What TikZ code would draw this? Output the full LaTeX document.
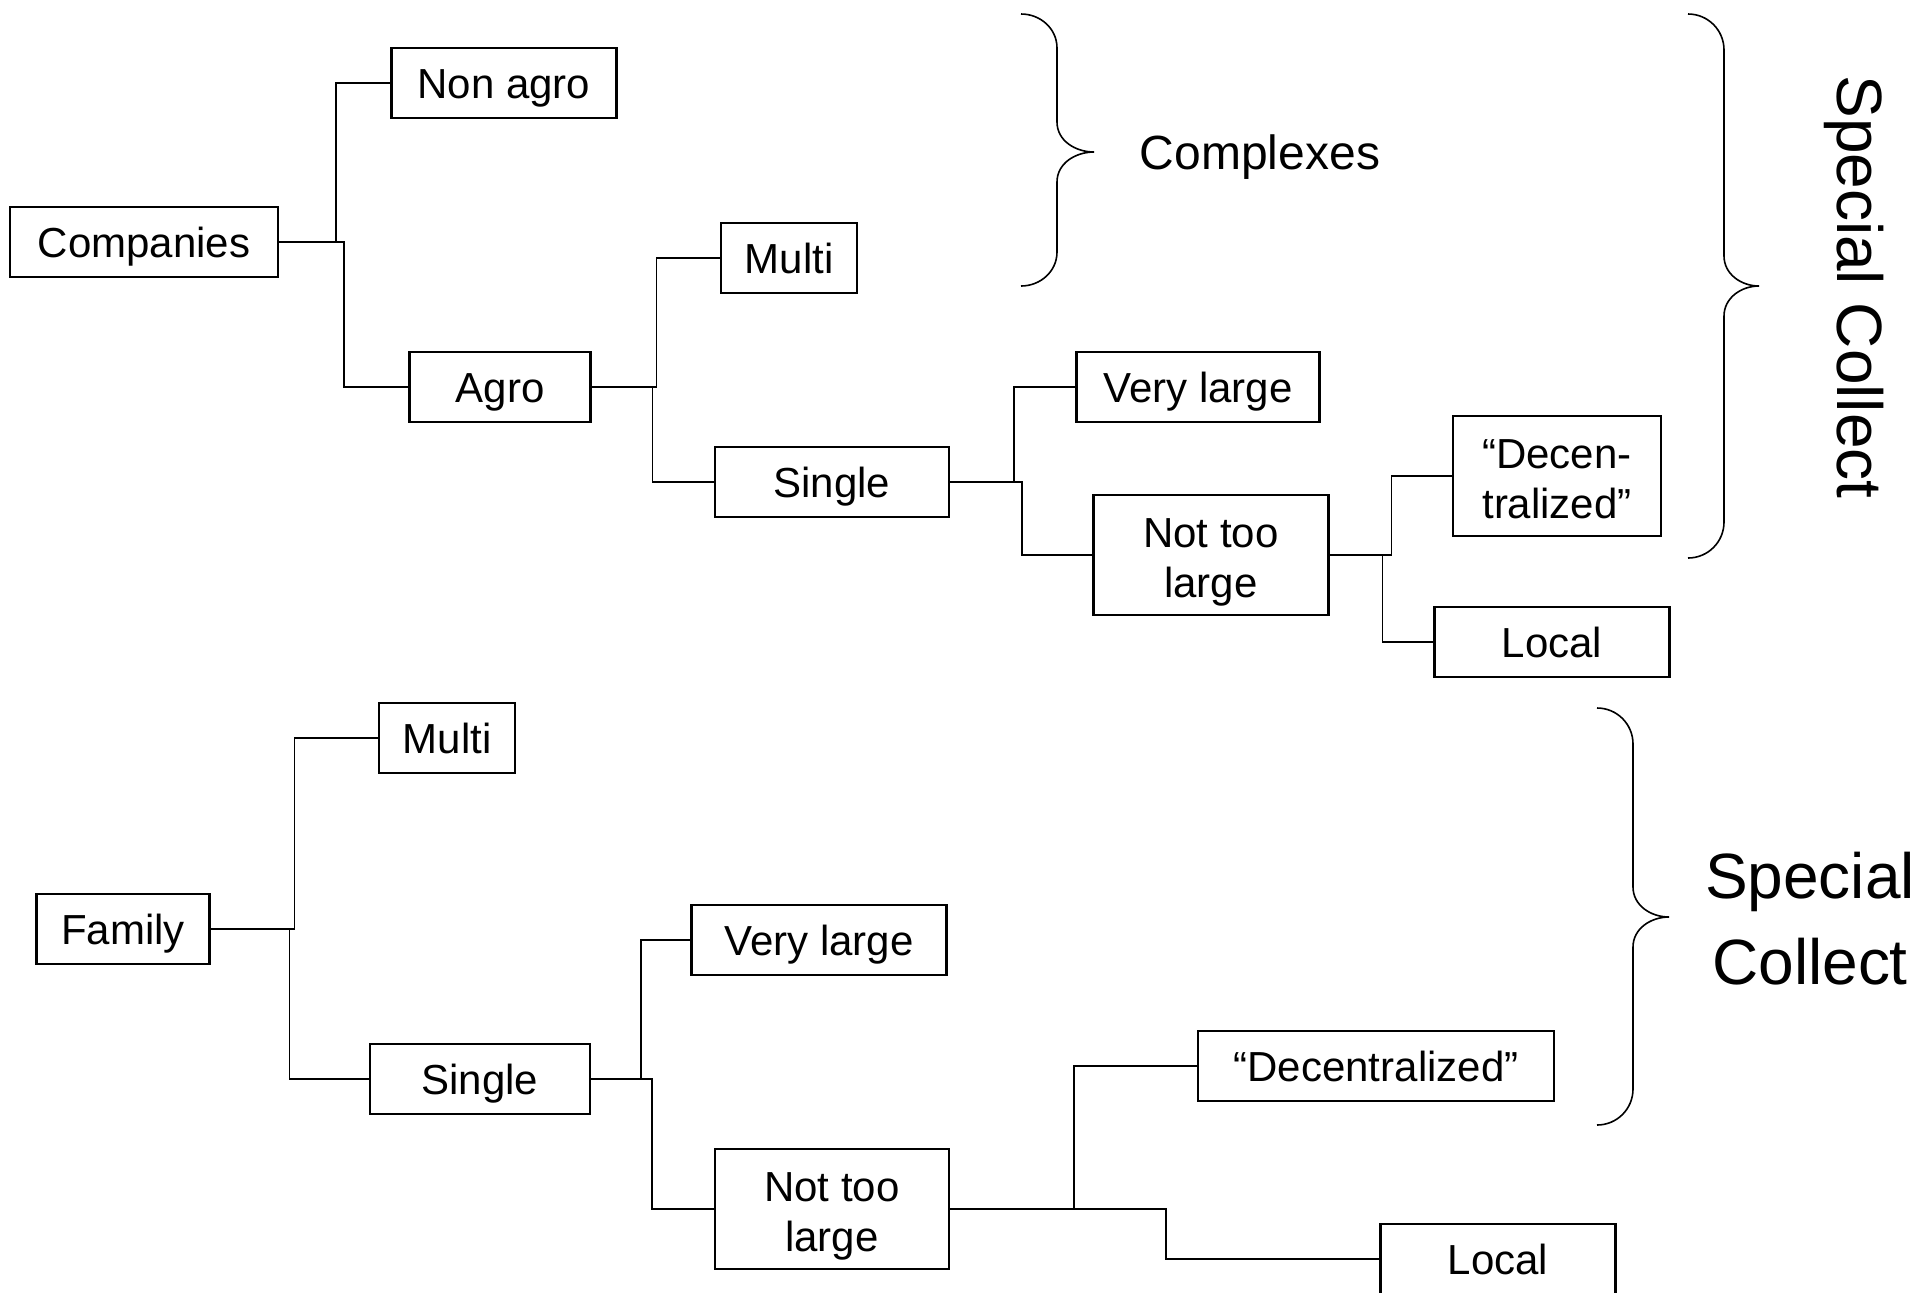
\documentclass[tikz,border=0pt]{standalone}
\usepackage{fontspec}
\setmainfont{Liberation Sans}
\usetikzlibrary{calc}

\tikzset{
	box/.style = {draw, line width = 1.1pt, inner sep = 0pt, minimum height = 35pt, text height = 17pt, text depth = 1.4pt, align = center, font = \fontsize{21}{25}\selectfont},
	tallbox/.style = {box, minimum height = 60pt, text height = 42pt, text depth = 0pt},
	link/.style = {line width = 0.8pt},
	curly/.style = {line width = 0.8pt},
}

\begin{document}
\begin{tikzpicture}[x = 0.5pt, y = -0.5pt]
	%frame of the picture
	\useasboundingbox (0,0) rectangle (1922,1292);
	
	%companies tree
	\node [box, minimum width = 134pt] (comp) at (144,242) {Companies};
	\node [box, minimum width = 112.5pt] (nonagro) at (504,83) {Non agro};
	\node [box, minimum width = 90.5pt] (agro) at (500,387) {Agro};
	\node [box, minimum width = 68pt] (multiA) at (789,258) {Multi};
	\node [box, minimum width = 117pt] (singleA) at (832,482) {Single};
	\node [box, minimum width = 121.5pt] (largeA) at (1198,387) {Very large};
	\node [tallbox, minimum width = 117.5pt] (nottooA) at (1211,555) {Not too\\large};
	\node [tallbox, minimum width = 104pt] (decenA) at (1557,476) {“Decen-\\tralized”};
	\node [box, minimum width = 117.5pt] (localA) at (1552,642) {Local};
	
	\draw [link] (comp.east) -- ++(57,0) |- (nonagro.west);
	\draw [link] (comp.east) -- ++(65,0) |- (agro.west);
	\draw [link] (agro.east) -- ++(65,0) |- (multiA.west);
	\draw [link] (agro.east) -- ++(61,0) |- (singleA.west);
	\draw [link] (singleA.east) -- ++(64,0) |- (largeA.west);
	\draw [link] (singleA.east) -- ++(72,0) |- (nottooA.west);
	\draw [link] (nottooA.east) -- ++(62,0) |- (decenA.west);
	\draw [link] (nottooA.east) -- ++(53,0) |- (localA.west);
	
	%family tree
	\node [box, minimum width = 86.5pt] (family) at (123,929) {Family};
	\node [box, minimum width = 68pt] (multiB) at (447,738) {Multi};
	\node [box, minimum width = 127.5pt] (largeB) at (819,940) {Very large};
	\node [box, minimum width = 110pt] (singleB) at (480,1079) {Single};
	\node [tallbox, minimum width = 117pt] (nottooB) at (832,1209) {Not too\\large};
	\node [box, minimum width = 178pt] (decenB) at (1376,1066) {“Decentralized”};
	\node [box, minimum width = 117.5pt] (localB) at (1498,1259) {Local};
	
	\draw [link] (family.east) -- ++(84,0) |- (multiB.west);
	\draw [link] (family.east) -- ++(79,0) |- (singleB.west);
	\draw [link] (singleB.east) -- ++(50,0) |- (largeB.west);
	\draw [link] (singleB.east) -- ++(61,0) |- (nottooB.west);
	\draw [link] (nottooB.east) -- ++(124,0) |- (decenB.west);
	\draw [link] (nottooB.east) -- ++(216,0) |- (localB.west);
	
	%braces
	\draw [curly] (1021,14) to [out = 0, in = 90] (1057,48) -- (1057,122) to [out = -90, in = 180] (1094,152)
		to [out = 180, in = 90] (1057,182) -- (1057,252) to [out = -90, in = 0] (1021,286);
	\draw [curly] (1688,14) to [out = 0, in = 90] (1724,50) -- (1724,256) to [out = -90, in = 180] (1759,286)
		to [out = 180, in = 90] (1724,316) -- (1724,522) to [out = -90, in = 0] (1688,558);
	\draw [curly] (1597,708) to [out = 0, in = 90] (1633,744) -- (1633,887) to [out = -90, in = 180] (1669,917)
		to [out = 180, in = 90] (1633,947) -- (1633,1089) to [out = -90, in = 0] (1597,1125);
	
	%brace labels
	\node [font = \fontsize{24}{28}\selectfont] (complexes) at (1260,157) {Complexes};
	\node [rotate = -90, font = \fontsize{32}{38}\selectfont] (collectA) at (1854,287) {Special Collect};
	\node [align = center, font = \fontsize{32}{43}\selectfont] (collectB) at (1810,919) {Special \\Collect};
\end{tikzpicture}
\end{document}
